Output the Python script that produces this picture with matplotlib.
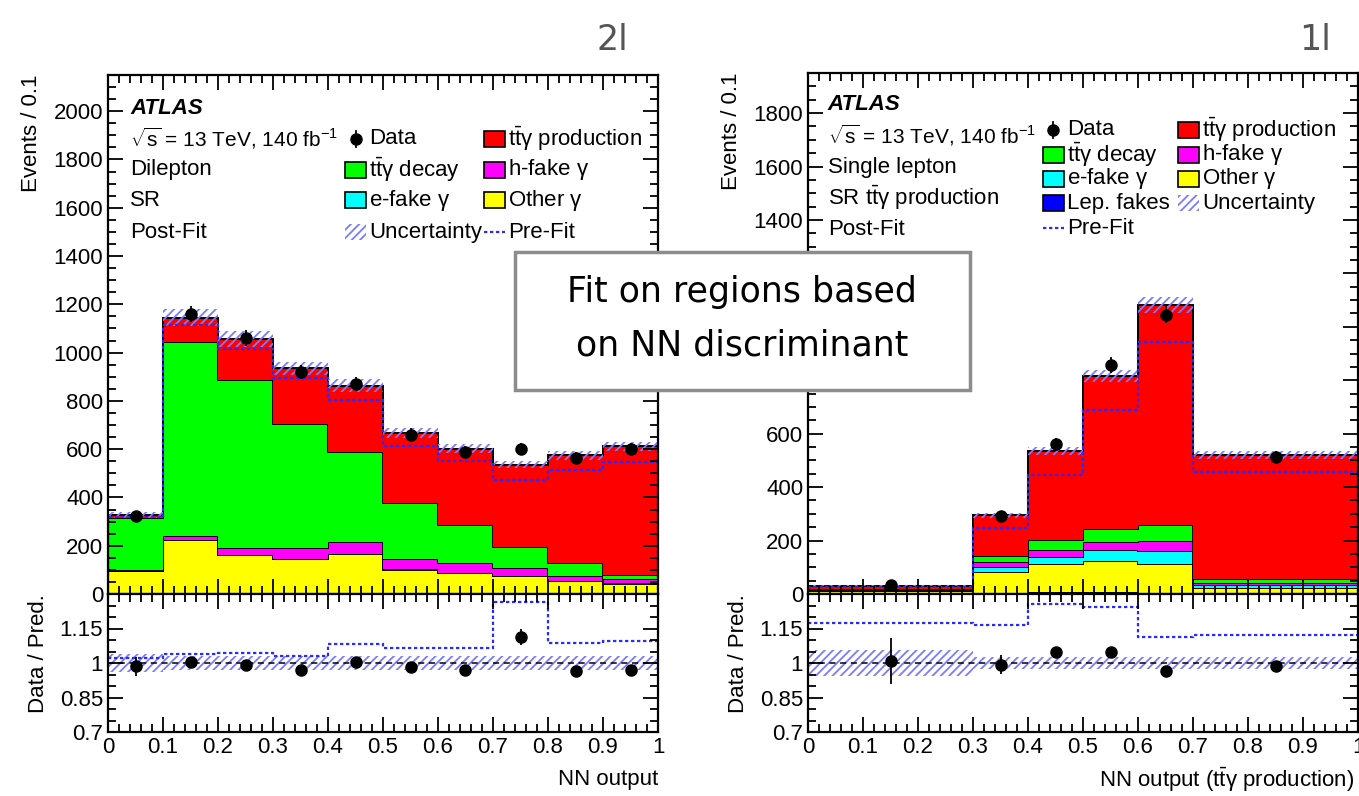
import matplotlib as mpl
mpl.use('Agg')
import matplotlib.pyplot as plt
import numpy as np
from matplotlib.patches import Rectangle, FancyBboxPatch
from matplotlib.lines import Line2D
from matplotlib.ticker import MultipleLocator, FixedLocator, FixedFormatter

plt.rcParams['font.family'] = ['Liberation Sans', 'DejaVu Sans']
plt.rcParams['mathtext.fontset'] = 'custom'
plt.rcParams['mathtext.rm'] = 'Liberation Sans'
plt.rcParams['mathtext.it'] = 'Liberation Sans'
plt.rcParams['hatch.linewidth'] = 1.3

# ---- dilepton (2l) ----
edges_2l = [0, 0.1, 0.2, 0.3, 0.4, 0.5, 0.6, 0.7, 0.8, 0.9, 1.0]
other_2l = [95, 222, 160, 146, 164, 101, 87, 73, 53, 43]
efake_2l = [1, 1, 1, 1, 1, 1, 1, 1, 1, 1]
hfake_2l = [2, 17, 28, 42, 51, 41, 39, 32, 20, 17]
decay_2l = [215, 802, 698, 516, 372, 236, 158, 89, 53, 17]
prod_2l = [13, 103, 169, 230, 275, 289, 317, 341, 447, 534]
data_2l = [325, 1160, 1060, 920, 870, 660, 590, 600, 565, 600]
prefit_2l = [320, 1115, 1015, 893, 804, 612, 551, 471, 512, 546]
ratio_2l = [0.985, 1.004, 0.992, 0.971, 1.004, 0.981, 0.971, 1.113, 0.966, 0.971]
ratio_err_2l = [0.04, 0.015, 0.015, 0.015, 0.015, 0.02, 0.02, 0.035, 0.02, 0.02]
prefit_ratio_2l = [1.022, 1.037, 1.045, 1.031, 1.083, 1.065, 1.065, 1.267, 1.087, 1.095]
unc_2l = [0.04, 0.03, 0.03, 0.03, 0.03, 0.03, 0.03, 0.03, 0.03, 0.03]

# ---- single lepton (1l) ----
edges_1l = [0, 0.3, 0.4, 0.5, 0.6, 0.7, 1.0]
lep_1l = [3, 4, 8, 8, 5, 2]
other_1l = [8, 77, 104, 117, 107, 22]
efake_1l = [3, 19, 28, 40, 50, 10]
hfake_1l = [2, 18, 25, 29, 35, 6]
decay_1l = [3, 26, 38, 50, 63, 15]
prod_1l = [12, 150, 332, 572, 821, 464]
data_1l = [34, 292, 560, 857, 1045, 512]
prefit_1l = [27, 247, 447, 690, 943, 456]
ratio_1l = [1.008, 0.993, 1.046, 1.049, 0.966, 0.985]
ratio_err_1l = [0.1, 0.04, 0.025, 0.022, 0.015, 0.02]
prefit_ratio_1l = [1.175, 1.167, 1.258, 1.243, 1.111, 1.12]
unc_1l = [0.058, 0.028, 0.028, 0.028, 0.028, 0.028]

c_red, c_green, c_mag, c_cyan, c_yel, c_blue = '#ff0000', '#00ff00', '#ff00ff', '#00ffff', '#ffff00', '#0000ff'
c_hatch = '#7b7bff'
c_pre = '#2a2aff'
fs = 16

fig = plt.figure(figsize=(13.59, 7.96), dpi=100)
W, H = 1359., 796.


def px_axes(x0, x1, y0, y1):
    return fig.add_axes([x0 / W, 1 - y1 / H, (x1 - x0) / W, (y1 - y0) / H])


def style(ax):
    ax.xaxis.set_major_locator(MultipleLocator(0.1))
    ax.xaxis.set_minor_locator(MultipleLocator(0.02))
    ax.tick_params(which='both', direction='in', top=True, right=True, labelsize=fs, width=1.3)
    ax.tick_params(which='major', length=11)
    ax.tick_params(which='minor', length=5.5)
    for s in ax.spines.values():
        s.set_linewidth(1.6)


def draw_main(ax, edges, comps, data, prefit, unc, ymax):
    edges = np.array(edges)
    left = edges[:-1]
    widths = np.diff(edges)
    centers = left + widths / 2
    bottom = np.zeros(len(left))
    for vals, col in comps:
        vals = np.array(vals, float)
        ax.bar(left, vals, width=widths, bottom=bottom, align='edge', color=col, lw=0)
        bottom = bottom + vals
        ax.stairs(bottom, edges, color='k', lw=1.4)
    total = bottom
    u = total * np.array(unc)
    ax.bar(left, 2 * u, width=widths, bottom=total - u, align='edge', fill=False,
           hatch='////', edgecolor=c_hatch, lw=0)
    ax.stairs(prefit, edges, color=c_pre, lw=1.6, ls=(0, (1.5, 1.2)))
    ax.errorbar(centers, data, yerr=np.sqrt(data), fmt='o', color='k', ms=8, lw=1.3)
    ax.set_xlim(0, 1)
    ax.set_ylim(0, ymax)
    style(ax)
    ax.yaxis.set_major_locator(MultipleLocator(200))
    ax.yaxis.set_minor_locator(MultipleLocator(50))
    ax.tick_params(labelbottom=False)
    ax.set_ylabel('Events / 0.1', fontsize=fs, loc='top', labelpad=8)


def draw_ratio(ax, edges, ratio, err, pre_ratio, unc, xlabel, xlab_x):
    edges = np.array(edges)
    left = edges[:-1]
    widths = np.diff(edges)
    centers = left + widths / 2
    unc = np.array(unc)
    ax.bar(left, 2 * unc, width=widths, bottom=1 - unc, align='edge', fill=False,
           hatch='////', edgecolor=c_hatch, lw=0)
    ax.axhline(1, color='k', lw=1.1, ls=(0, (4, 3)))
    ax.stairs(pre_ratio, edges, color=c_pre, lw=1.6, ls=(0, (1.5, 1.2)), baseline=None)
    ax.errorbar(centers, ratio, yerr=err, fmt='o', color='k', ms=8, lw=1.3)
    ax.set_xlim(0, 1)
    ax.set_ylim(0.7, 1.3)
    style(ax)
    ax.yaxis.set_major_locator(FixedLocator([0.7, 0.85, 1.0, 1.15]))
    ax.yaxis.set_major_formatter(FixedFormatter(['0.7', '0.85', '1', '1.15']))
    ax.yaxis.set_minor_locator(MultipleLocator(0.05))
    ax.xaxis.set_major_formatter(mpl.ticker.FuncFormatter(lambda v, p: '%g' % round(v, 2)))
    ax.set_ylabel('Data / Pred.', fontsize=fs, loc='top', labelpad=8)
    ax.set_xlabel(xlabel, fontsize=fs, ha='right', va='center')
    ax.xaxis.set_label_coords(xlab_x, -(780 - 732) / 138.)


def legend_entry(ax, x, y, kind, label, col=None):
    bw, bh = 0.038, 0.031
    if kind == 'box':
        ax.add_patch(Rectangle((x, y - bh / 2), bw, bh, transform=ax.transAxes,
                               facecolor=col, edgecolor='k', lw=1.2, zorder=5))
    elif kind == 'hatch':
        ax.add_patch(Rectangle((x, y - bh / 2), bw, bh, transform=ax.transAxes,
                               fill=False, hatch='////', edgecolor=c_hatch, lw=0, zorder=5))
    elif kind == 'data':
        ax.add_line(Line2D([x + bw / 2], [y], marker='o', color='k', ms=8,
                           transform=ax.transAxes, zorder=5))
        ax.add_line(Line2D([x + bw / 2, x + bw / 2], [y - bh / 2, y + bh / 2], color='k', lw=1.3,
                           transform=ax.transAxes, zorder=5))
    elif kind == 'pre':
        ax.add_line(Line2D([x, x + bw], [y, y], color=c_pre, lw=1.6, ls=(0, (1.5, 1.2)),
                           transform=ax.transAxes, zorder=5))
    ax.text(x + bw + 0.006, y, label, transform=ax.transAxes, fontsize=fs, va='center', ha='left', zorder=6)


ttg = r'$\mathrm{t\bar{t}\gamma}$'
gam = r'$\mathrm{\gamma}$'
lumi = r'$\sqrt{\mathrm{s}}$ = 13 TeV, 140 fb$^{-1}$'

# ---------- left panel ----------
axL = px_axes(108, 658, 75, 594)
draw_main(axL, edges_2l, [(other_2l, c_yel), (efake_2l, c_cyan), (hfake_2l, c_mag),
                          (decay_2l, c_green), (prod_2l, c_red)],
          data_2l, prefit_2l, unc_2l, 2150)
rL = px_axes(108, 658, 594, 732)
draw_ratio(rL, edges_2l, ratio_2l, ratio_err_2l, prefit_ratio_2l, unc_2l, 'NN output', 1.0)

tx = 0.04
axL.text(tx, 0.936, 'ATLAS', transform=axL.transAxes, fontsize=fs, weight='bold', style='italic', va='center')
axL.text(tx, 0.877, lumi, transform=axL.transAxes, fontsize=15, va='center')
for yy, t in zip([0.817, 0.759, 0.697], ['Dilepton', 'SR', 'Post-Fit']):
    axL.text(tx, yy, t, transform=axL.transAxes, fontsize=fs, va='center')

c1, c2 = 0.431, 0.683
rows = [0.877, 0.817, 0.759, 0.697]
legend_entry(axL, c1, rows[0], 'data', 'Data')
legend_entry(axL, c2, rows[0], 'box', ttg + ' production', c_red)
legend_entry(axL, c1, rows[1], 'box', ttg + ' decay', c_green)
legend_entry(axL, c2, rows[1], 'box', 'h-fake ' + gam, c_mag)
legend_entry(axL, c1, rows[2], 'box', 'e-fake ' + gam, c_cyan)
legend_entry(axL, c2, rows[2], 'box', 'Other ' + gam, c_yel)
legend_entry(axL, c1, rows[3], 'hatch', 'Uncertainty')
legend_entry(axL, c2, rows[3], 'pre', 'Pre-Fit')

# ---------- right panel ----------
axR = px_axes(808, 1358, 73, 594)
draw_main(axR, edges_1l, [(lep_1l, c_blue), (other_1l, c_yel), (efake_1l, c_cyan),
                          (hfake_1l, c_mag), (decay_1l, c_green), (prod_1l, c_red)],
          data_1l, prefit_1l, unc_1l, 1950)
rR = px_axes(808, 1358, 594, 732)
draw_ratio(rR, edges_1l, ratio_1l, ratio_err_1l, prefit_ratio_1l, unc_1l,
           'NN output (' + ttg + ' production)', 0.994)

tx = 0.036
axR.text(tx, 0.939, 'ATLAS', transform=axR.transAxes, fontsize=fs, weight='bold', style='italic', va='center')
axR.text(tx, 0.881, lumi, transform=axR.transAxes, fontsize=15, va='center')
for yy, t in zip([0.818, 0.760, 0.699], ['Single lepton', 'SR ' + ttg + ' production', 'Post-Fit']):
    axR.text(tx, yy, t, transform=axR.transAxes, fontsize=fs, va='center')

c1, c2 = 0.427, 0.673
rows = [0.891, 0.843, 0.797, 0.750, 0.702]
legend_entry(axR, c1, rows[0], 'data', 'Data')
legend_entry(axR, c2, rows[0], 'box', ttg + ' production', c_red)
legend_entry(axR, c1, rows[1], 'box', ttg + ' decay', c_green)
legend_entry(axR, c2, rows[1], 'box', 'h-fake ' + gam, c_mag)
legend_entry(axR, c1, rows[2], 'box', 'e-fake ' + gam, c_cyan)
legend_entry(axR, c2, rows[2], 'box', 'Other ' + gam, c_yel)
legend_entry(axR, c1, rows[3], 'box', 'Lep. fakes', c_blue)
legend_entry(axR, c2, rows[3], 'hatch', 'Uncertainty')
legend_entry(axR, c1, rows[4], 'pre', 'Pre-Fit')

# ---------- annotations ----------
box = FancyBboxPatch((515 / W, 1 - 390 / H), (970 - 515) / W, (390 - 252) / H,
                     boxstyle='square,pad=0', transform=fig.transFigure,
                     facecolor='white', edgecolor='#8c8c8c', lw=2.5, zorder=10)
fig.patches.append(box)
fig.text(742 / W, 1 - 292 / H, 'Fit on regions based', fontsize=25, ha='center', va='center',
         family='DejaVu Sans', zorder=11)
fig.text(742 / W, 1 - 345 / H, 'on NN discriminant', fontsize=25, ha='center', va='center',
         family='DejaVu Sans', zorder=11)
fig.text(612 / W, 1 - 40 / H, '2l', fontsize=25, color='#555555', ha='center', va='center', family='DejaVu Sans')
fig.text(1315 / W, 1 - 40 / H, '1l', fontsize=25, color='#555555', ha='center', va='center', family='DejaVu Sans')

fig.savefig('out.png', dpi=100)
